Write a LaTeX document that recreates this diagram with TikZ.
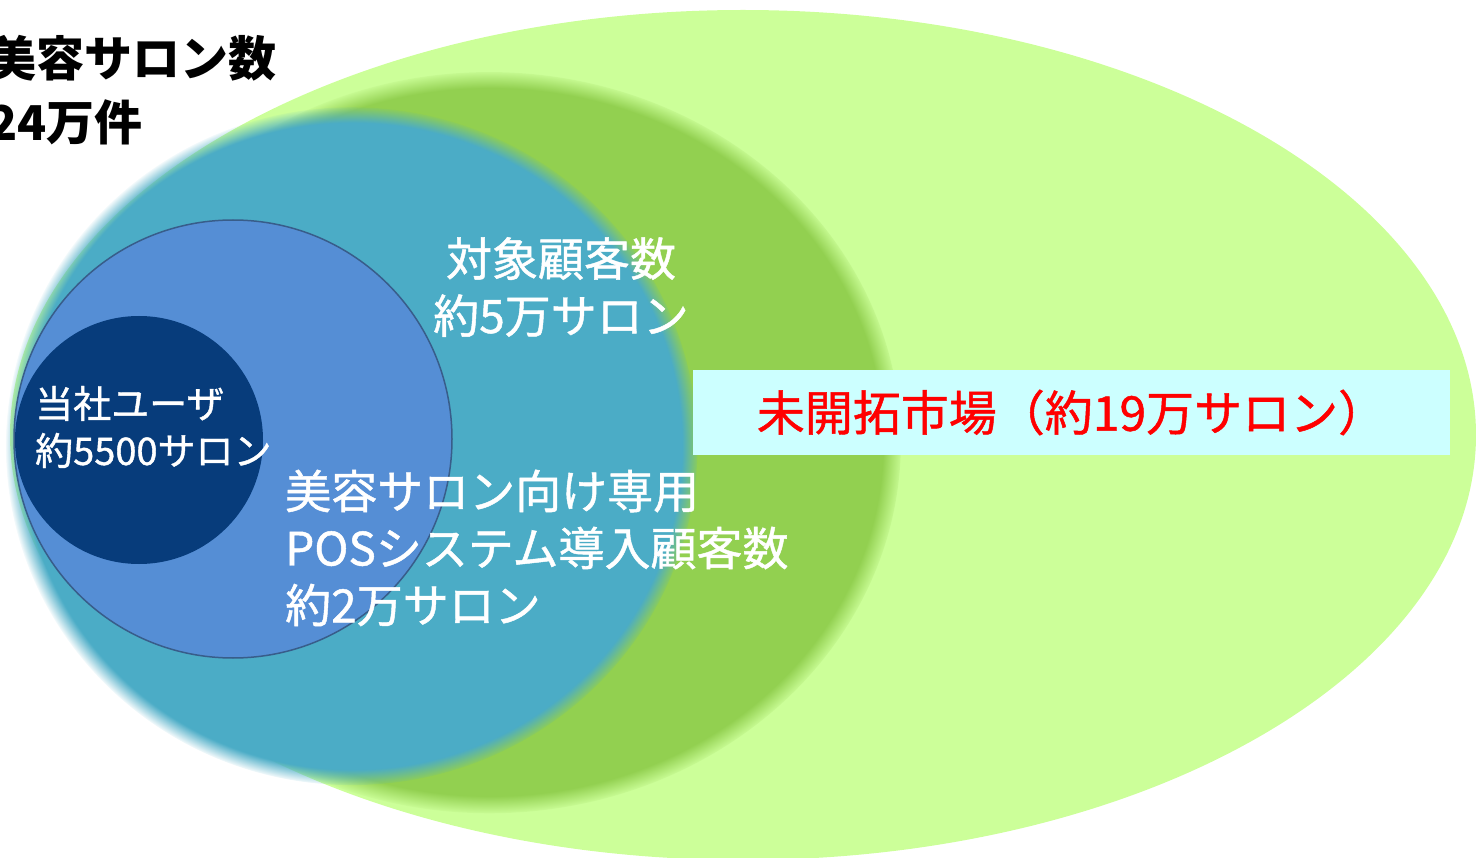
\documentclass[tikz,border=0pt]{standalone}
\usepackage{fontspec}
\setmainfont{Noto Sans CJK JP}
\newfontfamily\heavyjp{Noto Sans CJK JP}[FakeBold=1]
\usetikzlibrary{fadings}

\definecolor{paleGreen}{HTML}{CCFF99}
\definecolor{midGreen}{HTML}{92D050}
\definecolor{aquaBlue}{HTML}{4BACC6}
\definecolor{posBlue}{HTML}{558ED5}
\definecolor{rimBlue}{HTML}{385D8A}
\definecolor{userNavy}{HTML}{073C7B}
\definecolor{boxCyan}{HTML}{CCFFFF}

\pgfdeclareradialshading{softrimshade}{\pgfpointorigin}{color(0bp)=(pgftransparent!0); color(23.75bp)=(pgftransparent!0); color(25bp)=(pgftransparent!100); color(50bp)=(pgftransparent!100)}
\pgfdeclarefading{softrim}{\pgfuseshading{softrimshade}}

\begin{document}
\begin{tikzpicture}[x=1pt, y=-1pt,
    label/.style={inner sep=0pt, text=white},
    soft/.style={path fading=softrim}]
    \useasboundingbox (0, 0) rectangle (1476, 858);
    \clip             (0, 0) rectangle (1476, 858);
    % all salons
    \fill [paleGreen]       (743, 435) ellipse [x radius=733pt, y radius=425pt];
    % target
    \fill [midGreen, soft]  (490, 442) ellipse [x radius=412pt, y radius=371pt];
    % POS users
    \fill [aquaBlue, soft]  (352, 446) ellipse [x radius=346pt, y radius=339pt];
    % own users
    \draw [rimBlue, line width=1.5pt, fill=posBlue] (233, 439) circle (219pt);
    \fill [userNavy]        (139, 440) circle (124pt);

    \node [inner sep=0pt, anchor=west, align=left,
           font=\fontsize{48}{64}\selectfont\bfseries] (total) at (-12, 90)
          {美容サロン数\\24万件};
    \node [label, anchor=west, align=left,
           font=\fontsize{38}{47}\heavyjp] (users) at (35, 427)
          {当社ユーザ\\約5500サロン};
    \node [label, align=center,
           font=\fontsize{46}{57}\heavyjp] (target) at (561, 287)
          {対象顧客数\\約5万サロン};
    \node [label, anchor=west, align=left,
           font=\fontsize{46}{57}\heavyjp] (pos) at (285, 548)
          {美容サロン向け専用\\POSシステム導入顧客数\\約2万サロン};
    \node [fill=boxCyan, text=red, inner sep=0pt,
           minimum width=757pt, minimum height=85pt,
           font=\fontsize{48}{56}\heavyjp] (market) at (1071.5, 412.5)
          {未開拓市場（約19万サロン）};
  \end{tikzpicture}
\end{document}
